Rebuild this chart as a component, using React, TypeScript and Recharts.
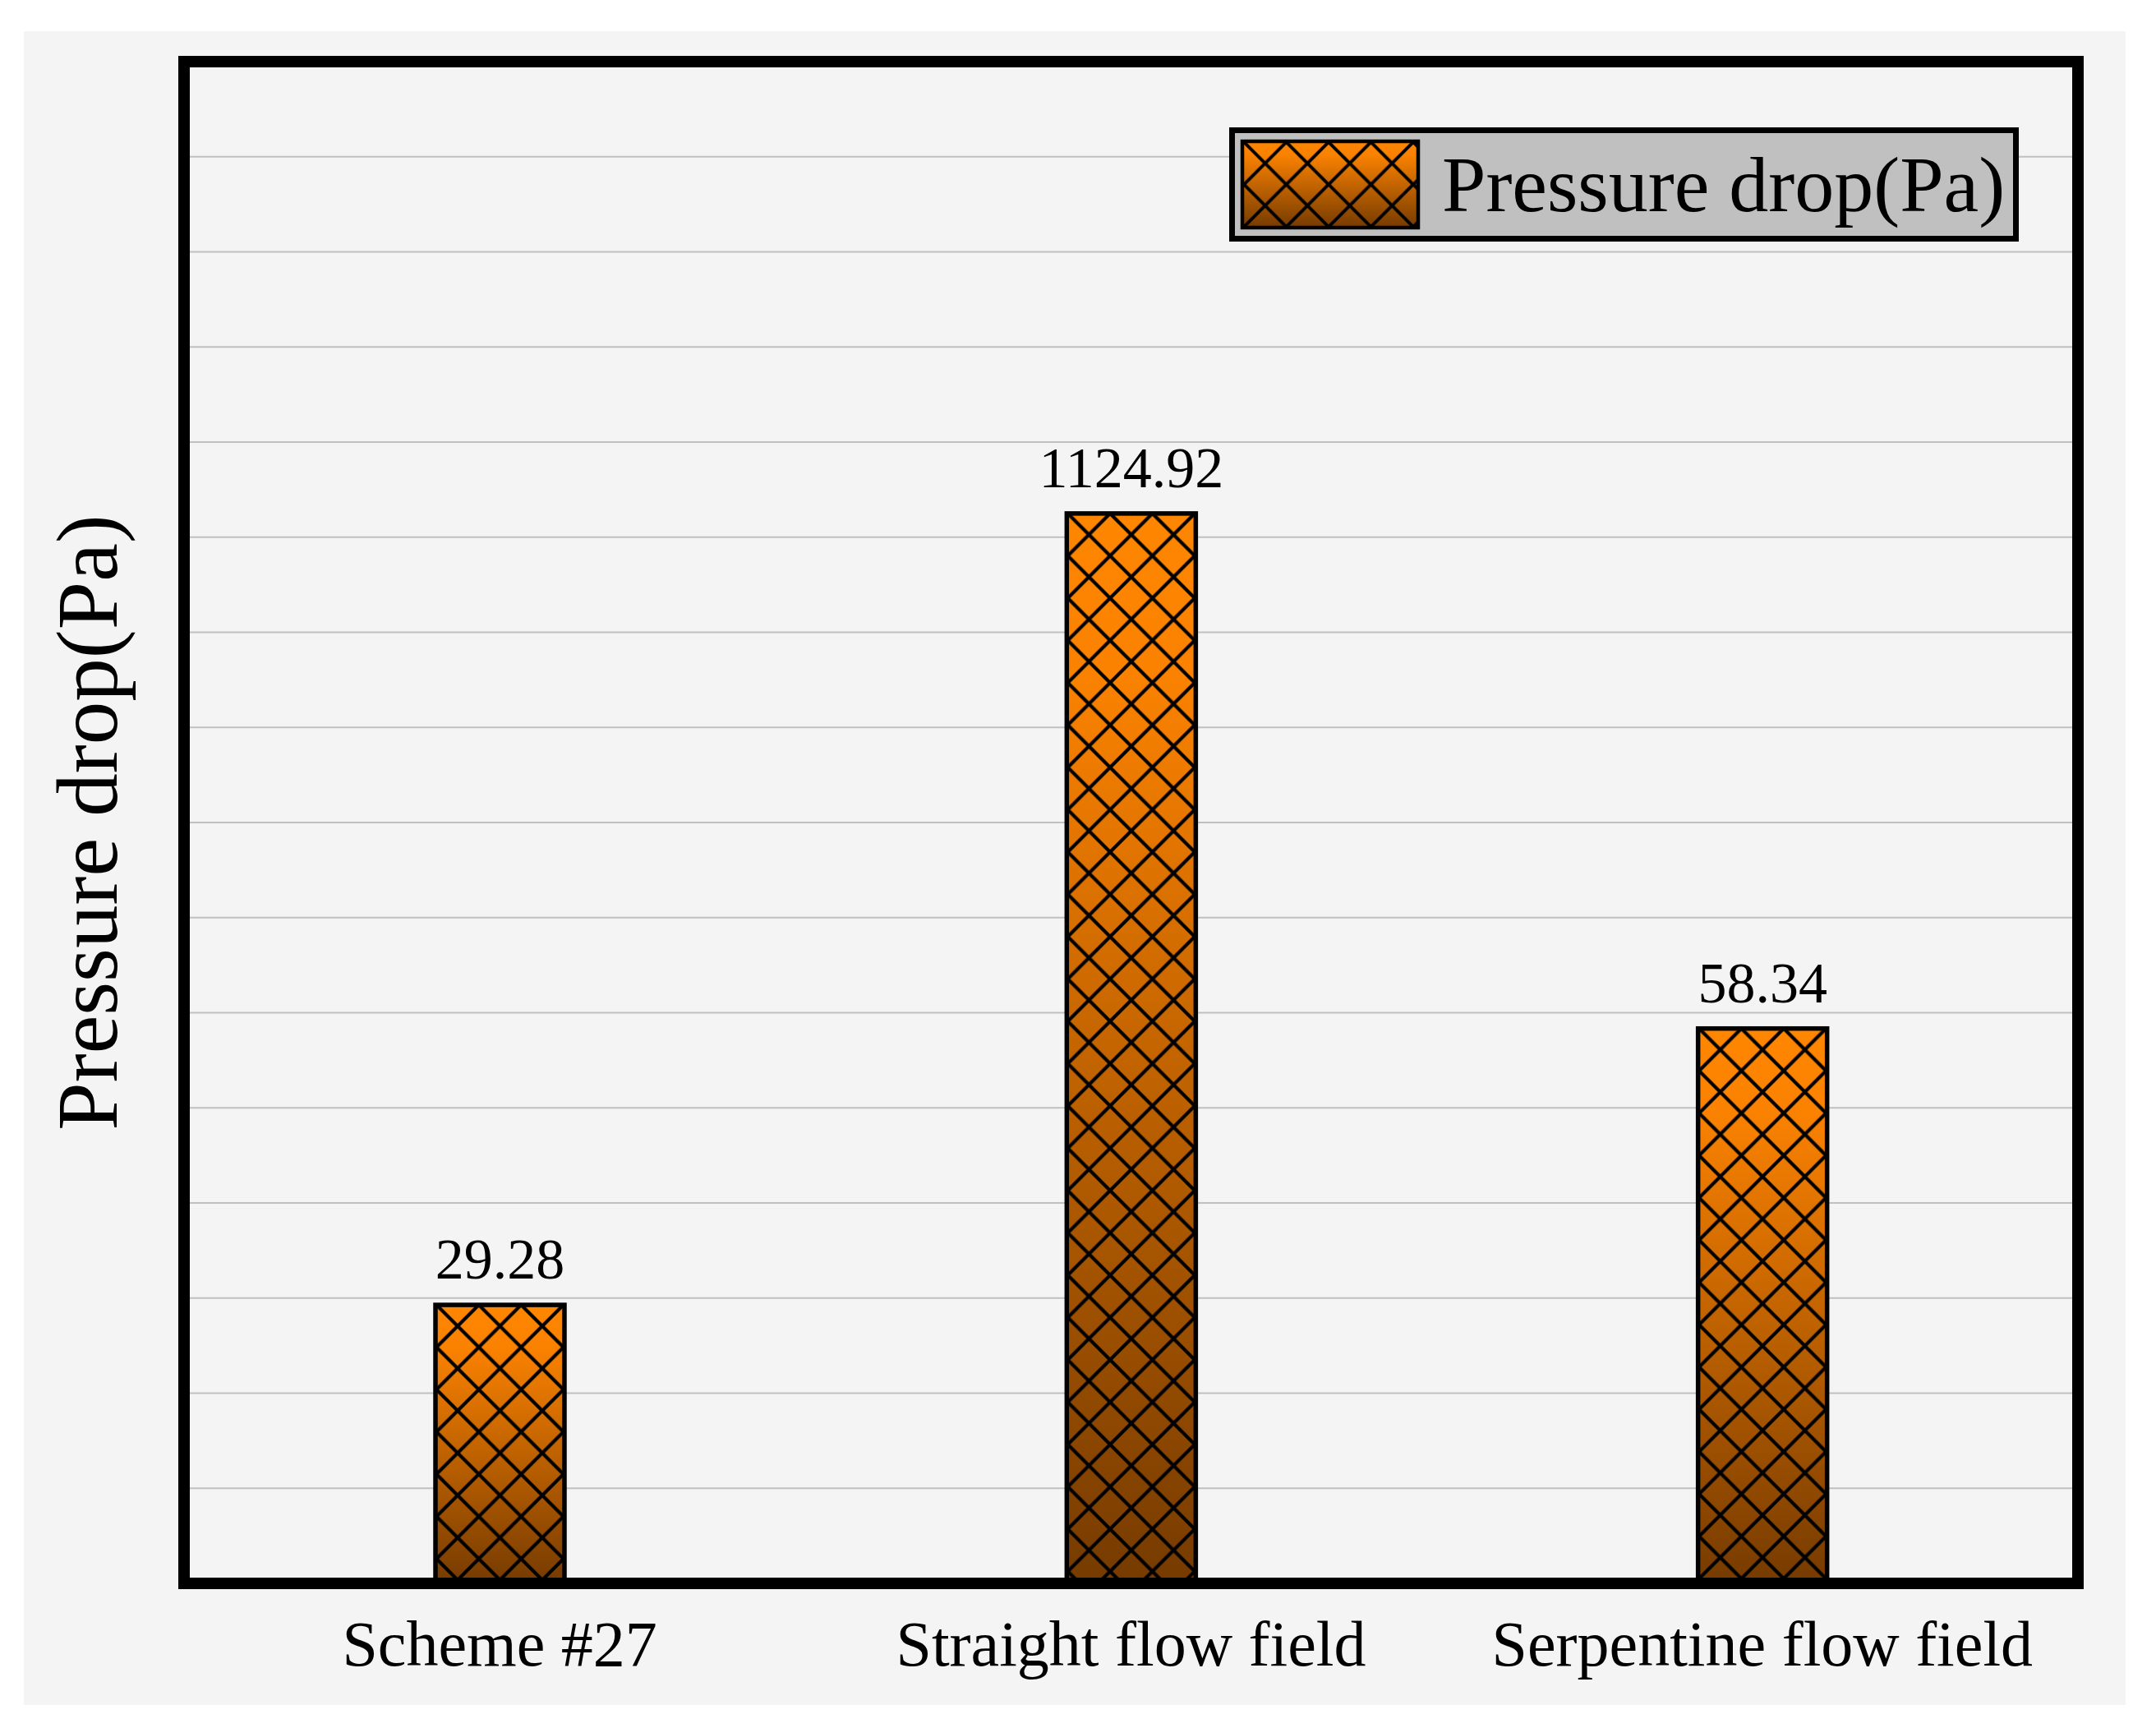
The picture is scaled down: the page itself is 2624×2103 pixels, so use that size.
import {
  BarChart,
  Bar,
  XAxis,
  YAxis,
  CartesianGrid,
  LabelList
} from 'recharts';

const categories = ['Scheme #27', 'Straight flow field', 'Serpentine flow field'];
// bar heights as drawn in the figure (the straight flow field bar is drawn at 1/10 scale)
const barHeights = [29.28, 112.492, 58.34];
const valueLabels = ['29.28', '1124.92', '58.34'];
const yTicks = [0, 10, 20, 30, 40, 50, 60, 70, 80, 90, 100, 110, 120, 130, 140, 150, 160];
const seriesName = 'Pressure drop(Pa)';

const chartData = categories.map((name, i) => ({
  name,
  height: barHeights[i],
  label: valueLabels[i]
}));

const FONT = '"Liberation Serif", "Times New Roman", serif';
const TILE = 51.5;
const frameLine = { stroke: '#000', strokeWidth: 14, strokeLinecap: 'square' as const };

function hatchPath(s: number) {
  let d = '';
  for (const k of [-s, 0, s]) {
    d += `M${k} 0L${k + s} ${s}M${k + s} 0L${k} ${s}`;
  }
  return d;
}

function GradientStops() {
  return (
    <>
      <stop offset="0%" stopColor="#ff8600" />
      <stop offset="15%" stopColor="#fb8200" />
      <stop offset="100%" stopColor="#763b00" />
    </>
  );
}

function HatchedBar(props: any) {
  const { x, y, width, height, index } = props;
  if (!height || height <= 0) return null;
  const id = `bar-${index}`;
  const cx = x + width / 2;
  return (
    <g>
      <defs>
        <linearGradient id={`${id}-g`} x1="0" y1="0" x2="0" y2="1">
          <GradientStops />
        </linearGradient>
        <pattern
          id={`${id}-h`}
          patternUnits="userSpaceOnUse"
          x={cx - TILE / 2}
          y={y}
          width={TILE}
          height={TILE}
        >
          <path d={hatchPath(TILE)} stroke="#000" strokeWidth={4.2} fill="none" />
        </pattern>
      </defs>
      <rect x={x} y={y} width={width} height={height} fill={`url(#${id}-g)`} />
      <rect x={x} y={y} width={width} height={height} fill={`url(#${id}-h)`} />
      <rect x={x} y={y} width={width} height={height} fill="none" stroke="#000" strokeWidth={5.5} />
    </g>
  );
}

function CategoryTick({ x, y, payload }: any) {
  return (
    <text x={x} y={y + 100} textAnchor="middle" fontFamily={FONT} fontSize={78} fill="#000">
      {payload.value}
    </text>
  );
}

function EmptyTick() {
  return <g />;
}

function ValueLabel({ x, y, width, value }: any) {
  return (
    <text x={x + width / 2} y={y - 32} textAnchor="middle" fontFamily={FONT} fontSize={70} fill="#000">
      {value}
    </text>
  );
}

function YTitle({ viewBox }: any) {
  const vb = viewBox || { x: 224, y: 75, width: 1, height: 1852 };
  const cx = vb.x + vb.width - 82;
  const cy = vb.y + vb.height / 2;
  return (
    <text
      x={cx}
      y={cy}
      transform={`rotate(-90 ${cx} ${cy})`}
      textAnchor="middle"
      fontFamily={FONT}
      fontSize={105}
      fill="#000"
    >
      {seriesName}
    </text>
  );
}

function LegendBox() {
  return (
    <svg width={2624} height={2103} style={{ position: 'absolute', left: 0, top: 0, pointerEvents: 'none' }}>
      <defs>
        <linearGradient id="leg-g" x1="0" y1="0" x2="0" y2="1">
          <GradientStops />
        </linearGradient>
        <pattern id="leg-h" patternUnits="userSpaceOnUse" x={1514} y={173} width={TILE} height={TILE}>
          <path d={hatchPath(TILE)} stroke="#000" strokeWidth={4} fill="none" />
        </pattern>
      </defs>
      <rect x={1499.5} y={158.5} width={954} height={132} fill="#c0c0c0" stroke="#000" strokeWidth={7} />
      <rect x={1512} y={172} width={214} height={105} fill="url(#leg-g)" />
      <rect x={1512} y={172} width={214} height={105} fill="url(#leg-h)" />
      <rect x={1512} y={172} width={214} height={105} fill="none" stroke="#000" strokeWidth={4.5} />
      <text x={1755} y={257} fontFamily={FONT} fontSize={96} fill="#000">
        {seriesName}
      </text>
    </svg>
  );
}

export default function App() {
  return (
    <div style={{ position: 'absolute', left: 0, top: 0, width: 2624, height: 2103, background: '#fff' }}>
      <div style={{ position: 'absolute', left: 29, top: 38, width: 2558, height: 2037, background: '#f4f4f4' }} />
      <div style={{ position: 'absolute', left: 0, top: 0 }}>
        <BarChart
          width={2624}
          height={2103}
          data={chartData}
          margin={{ top: 74, right: 94, left: 223, bottom: 0 }}
          barSize={157}
        >
          <CartesianGrid vertical={false} horizontal={true} stroke="#c0c0c0" strokeWidth={2} />
          <XAxis
            dataKey="name"
            height={176}
            tickLine={false}
            tickSize={0}
            tickMargin={0}
            axisLine={frameLine}
            tick={<CategoryTick />}
            interval={0}
          />
          <XAxis
            xAxisId="top"
            dataKey="name"
            orientation="top"
            height={1}
            tick={false}
            tickLine={false}
            axisLine={frameLine}
          />
          <YAxis
            type="number"
            domain={[0, 160]}
            ticks={yTicks}
            interval={0}
            width={1}
            tick={<EmptyTick />}
            tickLine={false}
            axisLine={frameLine}
            label={<YTitle />}
          />
          <YAxis
            yAxisId="right"
            type="number"
            orientation="right"
            domain={[0, 160]}
            width={1}
            tick={false}
            tickLine={false}
            axisLine={frameLine}
          />
          <Bar dataKey="height" name={seriesName} shape={<HatchedBar />} isAnimationActive={false}>
            <LabelList dataKey="label" content={<ValueLabel />} />
          </Bar>
        </BarChart>
      </div>
      <LegendBox />
    </div>
  );
}
